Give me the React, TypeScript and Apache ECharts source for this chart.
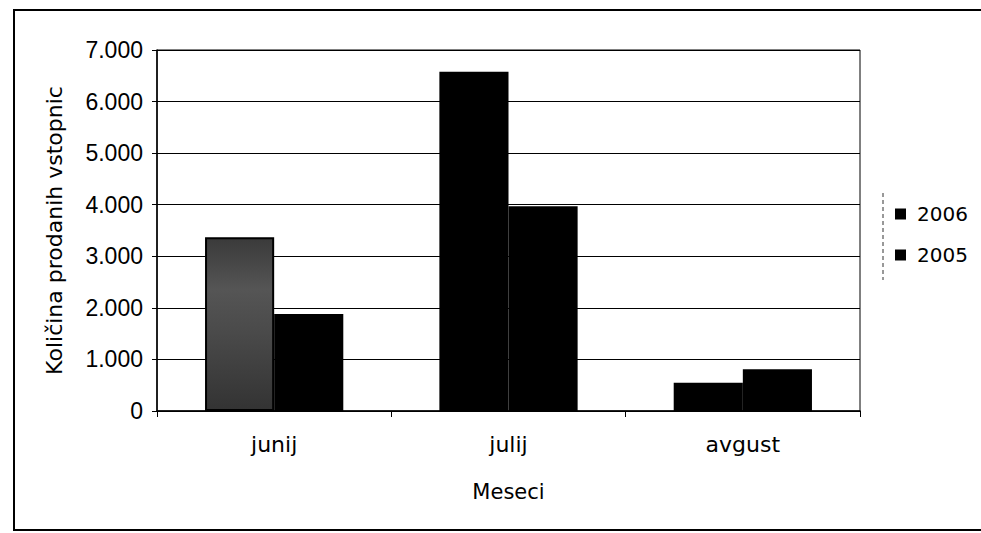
import React, { useEffect, useRef } from "react";
import * as echarts from "echarts";

const categories = ["junij", "julij", "avgust"];
const seriesNames = ["2006", "2005"];
const values2006 = [3370, 6580, 550];
const values2005 = [1880, 3970, 810];
const yTicks = { min: 0, max: 7000, interval: 1000 };

const FONT = "DejaVu Sans";

function fmt(v: number): string {
  if (v === 0) return "0";
  const th = Math.floor(v / 1000);
  const rest = v % 1000;
  return `${th}.${String(rest).padStart(3, "0")}`;
}

export default function App() {
  const ref = useRef<HTMLDivElement>(null);
  useEffect(() => {
    if (!ref.current) return;
    const chart = echarts.init(ref.current, undefined, { renderer: "svg" });
    chart.setOption({
      animation: false,
      backgroundColor: "#ffffff",
      grid: { left: 157, top: 50, width: 703, height: 361, show: true, borderColor: "#000", borderWidth: 1 },
      legend: {
        data: seriesNames,
        orient: "vertical",
        left: 890,
        top: 199,
        itemWidth: 11,
        itemHeight: 11,
        itemGap: 21,
        icon: "rect",
        textStyle: { fontFamily: FONT, fontSize: 20, color: "#000", padding: [0, 0, 0, 6] },
      },
      xAxis: {
        type: "category",
        data: categories,
        name: "Meseci",
        nameLocation: "middle",
        nameGap: 70,
        nameTextStyle: { fontFamily: FONT, fontSize: 21, color: "#000" },
        axisLine: { lineStyle: { color: "#000", width: 1.5 } },
        axisTick: { show: true, length: 6, lineStyle: { color: "#000" } },
        axisLabel: { fontFamily: FONT, fontSize: 22, color: "#000", margin: 22 },
      },
      yAxis: {
        type: "value",
        min: yTicks.min,
        max: yTicks.max,
        interval: yTicks.interval,
        name: "Količina prodanih vstopnic",
        nameLocation: "middle",
        nameGap: 92,
        nameTextStyle: { fontFamily: FONT, fontSize: 22, color: "#000" },
        axisLine: { show: true, lineStyle: { color: "#000", width: 1.5 } },
        axisTick: { show: true, length: 5, lineStyle: { color: "#000" } },
        axisLabel: { fontFamily: "Liberation Sans", fontSize: 23, color: "#000", margin: 14, formatter: fmt },
        splitLine: { show: true, lineStyle: { color: "#000", width: 1.2 } },
      },
      series: [
        {
          name: seriesNames[0],
          type: "bar",
          barGap: "0%",
          barCategoryGap: "41%",
          itemStyle: { color: "#000" },
          data: values2006.map((v, i) =>
            i === 0
              ? {
                  value: v,
                  itemStyle: {
                    color: new echarts.graphic.LinearGradient(0, 0, 0, 1, [
                      { offset: 0, color: "#3a3a3a" },
                      { offset: 0.3, color: "#555555" },
                      { offset: 0.55, color: "#4a4a4a" },
                      { offset: 1, color: "#333333" },
                    ]),
                    borderColor: "#000",
                    borderWidth: 2,
                  },
                }
              : v
          ),
        },
        {
          name: seriesNames[1],
          type: "bar",
          barGap: "0%",
          barCategoryGap: "41%",
          itemStyle: { color: "#000" },
          data: values2005,
        },
      ],
      graphic: [
        {
          type: "rect",
          shape: { x: 14, y: 10, width: 1000, height: 520 },
          style: { fill: "none", stroke: "#000", lineWidth: 2 },
          silent: true,
        },
        {
          type: "line",
          shape: { x1: 883, y1: 193, x2: 883, y2: 280 },
          style: { stroke: "#333", lineWidth: 1, lineDash: [4, 3] },
          silent: true,
        },
      ],
    });
    return () => chart.dispose();
  }, []);
  return <div ref={ref} style={{ position: "fixed", left: 0, top: 0, width: 981, height: 533 }} />;
}
